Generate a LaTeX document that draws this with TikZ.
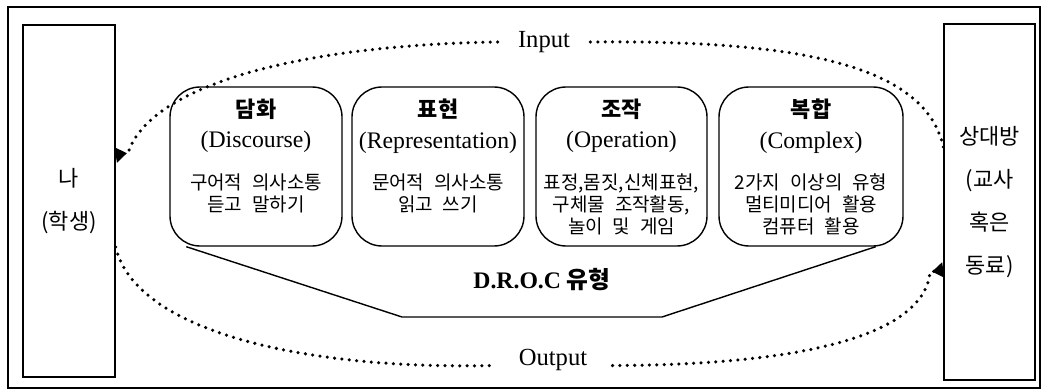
\documentclass[tikz,border=0pt]{standalone}
\usepackage{fontspec}
\setmainfont{Liberation Serif}
\newfontfamily\kr[WordSpace=2.3]{Noto Sans CJK KR}
\usepackage{tikz}
\usetikzlibrary{arrows.meta,positioning}

\newcommand{\ttl}[1]{{\fontsize{12.5}{15}\selectfont\kr\bfseries #1}}
\newcommand{\eng}[1]{{\rmfamily\fontsize{13.5}{16}\selectfont #1}}

\begin{document}
\begin{tikzpicture}[
  font=\fontsize{10}{12.5}\selectfont,
  outer/.style={draw, line width=0.6pt},
  side/.style={draw, line width=0.8pt, align=center, font=\kr\fontsize{12.5}{24.5}\selectfont},
  kind/.style={draw, line width=0.8pt, rounded corners=0.6cm, minimum height=3.18cm},
  kindtext/.style={anchor=north, inner sep=0pt, align=center, font=\kr\fontsize{10.8}{12.5}\selectfont},
  flow/.style={line width=2pt, dash pattern=on 0pt off 4.2pt, line cap=round},
  endtip/.style={-{Triangle[reversed, length=6.5pt, width=8.5pt]}}
]
\useasboundingbox (0,0) rectangle (20.96,-7.8);
\draw[outer] (0.16,-0.14) rectangle (20.8,-7.76);

\node[side, minimum width=1.84cm, minimum height=7.04cm] (me) at (1.38,-4.02) {나\\(학생)};
\node[side, minimum width=1.82cm, minimum height=7.12cm] (peer) at (19.79,-4.04) {상대방\\(교사\\혹은\\동료)};

\node[kind, minimum width=3.44cm] (disc) at (5.12,-3.33) {};
\node[kind, minimum width=3.44cm] (repr) at (8.76,-3.33) {};
\node[kind, minimum width=3.42cm] (oper) at (12.43,-3.33) {};
\node[kind, minimum width=3.68cm] (comp) at (16.22,-3.33) {};

\node[kindtext] (disc-t) at ([yshift=-0.24cm]disc.north) {\ttl{담화}\\[5pt]\eng{(Discourse)}\\[11pt]구어적 의사소통\\듣고 말하기};
\node[kindtext] (repr-t) at ([yshift=-0.24cm]repr.north) {\ttl{표현}\\[5pt]\eng{(Representation)}\\[11pt]문어적 의사소통\\읽고 쓰기};
\node[kindtext] (oper-t) at ([yshift=-0.24cm]oper.north) {\ttl{조작}\\[5pt]\eng{(Operation)}\\[11pt]표정,몸짓,신체표현,\\구체물 조작활동,\\놀이 및 게임};
\node[kindtext] (comp-t) at ([yshift=-0.24cm]comp.north) {\ttl{복합}\\[5pt]\eng{(Complex)}\\[11pt]2가지 이상의 유형\\멀티미디어 활용\\컴퓨터 활용};

% D.R.O.C bracket under the four kinds
\coordinate (lo-l) at (8.04,-6.34);
\coordinate (lo-r) at (13.24,-6.34);
\draw[line width=0.8pt] ([xshift=0.34cm]disc.south west) -- (lo-l) -- (lo-r) -- ([xshift=-0.56cm]comp.south east);
\node[font=\fontsize{13.5}{16}\selectfont\bfseries] (droc) at (10.84,-5.6) {D.R.O.C {\kr 유형}};

\node[font=\fontsize{14}{17}\selectfont, inner xsep=0.4cm] (input) at (10.88,-0.84) {Input};
\node[font=\fontsize{14}{17}\selectfont, inner xsep=0.5cm] (output) at (11.06,-7.2) {Output};

% input and output loops
\draw[flow] ([yshift=1.1cm]peer.west) .. controls (18.5,-1.3) and (16.0,-0.8) .. (input.east);
\draw[flow, endtip] (input.west) .. controls (6.0,-0.9) and (3.0,-1.7) .. (2.56,-3.06) -- ([yshift=0.92cm]me.east);
\draw[flow] ([yshift=-0.92cm]me.east) .. controls (2.7,-6.6) and (6.0,-7.4) .. (output.base west);
\draw[flow, endtip] (output.base east) .. controls (16.4,-7.3) and (18.5,-6.6) .. (18.6,-5.44) -- ([yshift=-1.36cm]peer.west);
\end{tikzpicture}
\end{document}
